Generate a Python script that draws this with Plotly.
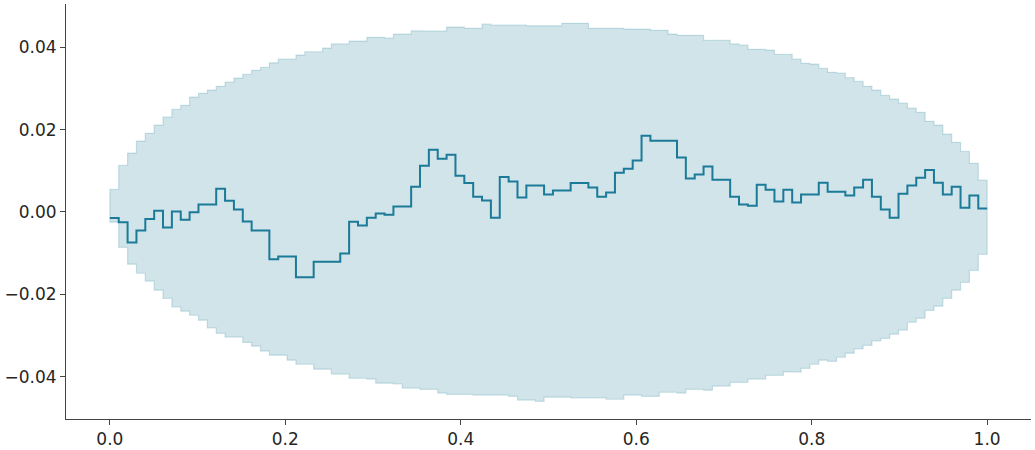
import numpy as np
import plotly.graph_objects as go

# x grid (100 points -> 99 step intervals)
x_grid = np.linspace(0, 1, 100)

# step values of the central line (one per interval)
line_vals = [
    -0.0015, -0.0025, -0.0074, -0.0045, -0.0017, 0.0003, -0.0038, 0.0001, -0.0019, -0.0001,
    0.0018, 0.0018, 0.0056, 0.0027, 0.0006, -0.0023, -0.0045, -0.0045, -0.0115, -0.0108,
    -0.0108, -0.0159, -0.0159, -0.0121, -0.0121, -0.0121, -0.0101, -0.0024, -0.0033, -0.0014,
    -0.0004, -0.0007, 0.0013, 0.0013, 0.0061, 0.0112, 0.0151, 0.0129, 0.0139, 0.0088,
    0.0070, 0.0037, 0.0028, -0.0014, 0.0085, 0.0074, 0.0035, 0.0064, 0.0064, 0.0042,
    0.0052, 0.0052, 0.0070, 0.0070, 0.0059, 0.0037, 0.0047, 0.0095, 0.0105, 0.0125,
    0.0185, 0.0173, 0.0173, 0.0173, 0.0132, 0.0081, 0.0091, 0.0110, 0.0078, 0.0078,
    0.0037, 0.0018, 0.0015, 0.0066, 0.0054, 0.0025, 0.0054, 0.0023, 0.0042, 0.0042,
    0.0071, 0.0049, 0.0049, 0.0040, 0.0059, 0.0078, 0.0037, 0.0006, -0.0014, 0.0044,
    0.0064, 0.0083, 0.0102, 0.0071, 0.0042, 0.0061, 0.0010, 0.0040, 0.0008,
]

# upper edge of band (one per interval)
upper_vals = [
    0.0055, 0.0113, 0.0143, 0.0172, 0.0191, 0.0211, 0.0230, 0.0249, 0.0259, 0.0279,
    0.0288, 0.0296, 0.0305, 0.0315, 0.0325, 0.0334, 0.0344, 0.0351, 0.0362, 0.0371,
    0.0371, 0.0381, 0.0389, 0.0389, 0.0398, 0.0408, 0.0408, 0.0415, 0.0415, 0.0424,
    0.0424, 0.0422, 0.0432, 0.0432, 0.0440, 0.0440, 0.0439, 0.0439, 0.0449, 0.0449,
    0.0446, 0.0446, 0.0456, 0.0454, 0.0454, 0.0454, 0.0454, 0.0452, 0.0452, 0.0452,
    0.0452, 0.0458, 0.0458, 0.0458, 0.0446, 0.0446, 0.0446, 0.0446, 0.0444, 0.0444,
    0.0444, 0.0441, 0.0441, 0.0432, 0.0429, 0.0429, 0.0429, 0.0417, 0.0417, 0.0417,
    0.0408, 0.0405, 0.0395, 0.0395, 0.0393, 0.0383, 0.0383, 0.0371, 0.0361, 0.0359,
    0.0349, 0.0339, 0.0337, 0.0326, 0.0317, 0.0305, 0.0296, 0.0283, 0.0274, 0.0264,
    0.0252, 0.0242, 0.0220, 0.0211, 0.0189, 0.0169, 0.0147, 0.0118, 0.0077,
]

# lower edge of band (one per interval)
lower_vals = [
    -0.0025, -0.0086, -0.0127, -0.0149, -0.0168, -0.0190, -0.0210, -0.0231, -0.0241, -0.0251,
    -0.0263, -0.0282, -0.0295, -0.0304, -0.0304, -0.0317, -0.0326, -0.0338, -0.0348, -0.0348,
    -0.0360, -0.0370, -0.0370, -0.0382, -0.0382, -0.0394, -0.0394, -0.0404, -0.0404, -0.0406,
    -0.0416, -0.0416, -0.0418, -0.0428, -0.0428, -0.0431, -0.0431, -0.0440, -0.0443, -0.0443,
    -0.0443, -0.0445, -0.0445, -0.0445, -0.0445, -0.0448, -0.0457, -0.0457, -0.0460, -0.0450,
    -0.0450, -0.0450, -0.0452, -0.0452, -0.0452, -0.0452, -0.0455, -0.0455, -0.0445, -0.0445,
    -0.0448, -0.0448, -0.0438, -0.0438, -0.0440, -0.0431, -0.0431, -0.0433, -0.0423, -0.0423,
    -0.0414, -0.0414, -0.0406, -0.0406, -0.0397, -0.0397, -0.0388, -0.0389, -0.0380, -0.0370,
    -0.0360, -0.0363, -0.0353, -0.0343, -0.0333, -0.0324, -0.0313, -0.0307, -0.0297, -0.0287,
    -0.0268, -0.0258, -0.0239, -0.0229, -0.0210, -0.0190, -0.0171, -0.0142, -0.0103,
]

x_ticks = [0.0, 0.2, 0.4, 0.6, 0.8, 1.0]
y_ticks = [-0.04, -0.02, 0.0, 0.02, 0.04]

COLOR = "rgb(27,122,151)"

# build step polygon for band
xl = x_grid[:-1]
xr = x_grid[1:]
up_x = np.column_stack([xl, xr]).ravel()
up_y = np.repeat(upper_vals, 2)
lo_x = np.column_stack([xl, xr]).ravel()[::-1]
lo_y = np.repeat(lower_vals, 2)[::-1]
poly_x = np.concatenate([up_x, lo_x, up_x[:1]])
poly_y = np.concatenate([up_y, lo_y, up_y[:1]])

fig = go.Figure()
fig.add_trace(go.Scatter(
    x=poly_x, y=poly_y, mode="lines", fill="toself",
    fillcolor="rgba(27,122,151,0.2)",
    line=dict(color="rgba(27,122,151,0.2)", width=1.2),
    hoverinfo="skip", showlegend=False,
))
fig.add_trace(go.Scatter(
    x=x_grid, y=line_vals + [line_vals[-1]], mode="lines",
    line=dict(color=COLOR, width=2, shape="hv"),
    showlegend=False,
))

axis_common = dict(
    showgrid=False, zeroline=False, showline=True, linecolor="#444444", linewidth=1,
    ticks="outside", ticklen=5, tickwidth=1, tickcolor="#444444", automargin=False,
    tickfont=dict(family="DejaVu Sans", size=17, color="#262626"), mirror=False,
)
fig.update_layout(
    width=1035, height=450,
    margin=dict(l=66, r=4, t=4, b=31),
    paper_bgcolor="white", plot_bgcolor="white",
    xaxis=dict(range=[-0.05, 1.05], tickvals=x_ticks, tickformat=".1f", **axis_common),
    yaxis=dict(range=[-0.0503, 0.0505], tickvals=y_ticks, tickformat=".2f", **axis_common),
)
fig.write_html("out.html", config={"displayModeBar": False},
               post_script="document.body.style.margin='0';")
